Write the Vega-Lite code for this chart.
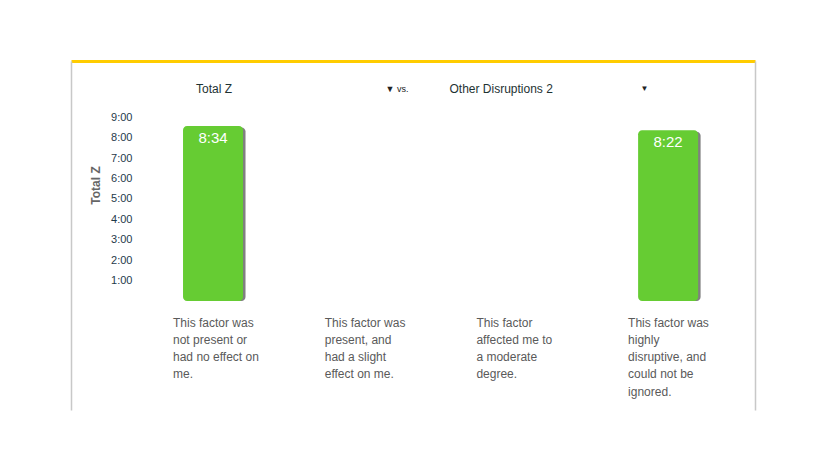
{
  "$schema": "https://vega.github.io/schema/vega-lite/v6.json",
  "width": 684,
  "height": 349,
  "autosize": {"type": "none"},
  "padding": {"left": 71, "top": 61, "right": 65, "bottom": 60},
  "background": "white",
  "config": {"view": {"stroke": null}, "font": "Liberation Sans"},
  "title": {"text": "Total Z", "anchor": "start", "frame": "group", "dx": 125, "fontSize": 12, "fontWeight": "normal", "color": "#1e3232", "baseline": "middle", "offset": -40},
  "data": {"values": [
    {"response": "This factor was\nnot present or\nhad no effect on\nme.", "hours": 8.567, "label": "8:34"},
    {"response": "This factor was\npresent, and\nhad a slight\neffect on me.", "hours": null, "label": null},
    {"response": "This factor\naffected me to\na moderate\ndegree.", "hours": null, "label": null},
    {"response": "This factor was\nhighly\ndisruptive, and\ncould not be\nignored.", "hours": 8.367, "label": "8:22"}
  ]},
  "encoding": {
    "x": {"field": "response", "type": "nominal", "sort": null,
      "scale": {"domain": [
        "This factor was\nnot present or\nhad no effect on\nme.",
        "This factor was\npresent, and\nhad a slight\neffect on me.",
        "This factor\naffected me to\na moderate\ndegree.",
        "This factor was\nhighly\ndisruptive, and\ncould not be\nignored."
      ], "paddingInner": 0, "paddingOuter": 0.2545, "align": 0.857}},
    "y": {"field": "hours", "type": "quantitative", "scale": {"domain": [-5.33, 11.75], "nice": false}}
  },
  "layer": [
    {
      "mark": {"type": "bar", "color": "#808080", "size": 60, "cornerRadius": 4, "xOffset": 2.5, "yOffset": 1.5},
      "encoding": {
        "x": {"field": "response", "type": "nominal", "axis": null},
        "y": {"field": "hours", "type": "quantitative", "axis": null},
        "y2": {"datum": 0}
      }
    },
    {
      "mark": {"type": "bar", "color": "#66cc33", "size": 60, "cornerRadius": 4},
      "encoding": {
        "x": {"field": "response", "type": "nominal", "axis": {
          "orient": "bottom", "domain": false, "ticks": false, "tickSize": 0, "grid": false,
          "labelExpr": "split(datum.label, '\\n')", "labelAlign": "left", "labelOffset": -40,
          "labelBaseline": "top", "labelPadding": -93, "labelLineHeight": 17.3, "labelFontSize": 12,
          "labelColor": "#5a5a5a", "labelAngle": 0, "labelLimit": 200, "labelOverlap": false, "labelBound": false,
          "title": "▼", "titleX": 569, "titleY": -322, "titleAlign": "left", "titleBaseline": "middle",
          "titleFontSize": 8, "titleFontWeight": "normal", "titleColor": "#222222", "titleAngle": 0
        }},
        "y": {"field": "hours", "type": "quantitative", "axis": {
          "orient": "left", "values": [1, 2, 3, 4, 5, 6, 7, 8, 9], "labelExpr": "datum.value + ':00'",
          "ticks": false, "tickSize": 0, "grid": false, "domain": true, "domainColor": "#c8c8c8", "domainWidth": 1.5,
          "labelPadding": -61, "labelAlign": "right", "labelFontSize": 11, "labelColor": "#1f3a4a", "labelFlush": false,
          "title": "Total Z", "titleX": 28.5, "titleY": 124, "titleBaseline": "alphabetic", "titleAlign": "center",
          "titleFontSize": 12, "titleFontWeight": "bold", "titleColor": "#666666"
        }},
        "y2": {"datum": 0}
      }
    },
    {
      "mark": {"type": "text", "color": "white", "fontSize": 15, "baseline": "alphabetic", "dy": 17},
      "encoding": {
        "text": {"field": "label", "type": "nominal"},
        "x": {"field": "response", "type": "nominal", "axis": {
          "orient": "top", "domain": true, "domainColor": "#ffcc00", "domainWidth": 3,
          "labels": false, "ticks": false, "grid": false,
          "title": "▼     vs.", "titleX": 314, "titleY": 27, "titleAlign": "left", "titleBaseline": "middle",
          "titleFontSize": 9, "titleFontWeight": "normal", "titleColor": "#222222", "titleAngle": 0
        }},
        "y": {"field": "hours", "type": "quantitative", "axis": {
          "orient": "right", "domain": true, "domainColor": "#c8c8c8", "domainWidth": 1.5,
          "labels": false, "ticks": false, "grid": false,
          "title": "Other Disruptions 2", "titleX": -306, "titleY": 27, "titleAngle": 0, "titleAlign": "left",
          "titleBaseline": "middle", "titleFontSize": 12, "titleFontWeight": "normal", "titleColor": "#1e3232"
        }}
      }
    }
  ],
  "resolve": {"axis": {"x": "independent", "y": "independent"}}
}
